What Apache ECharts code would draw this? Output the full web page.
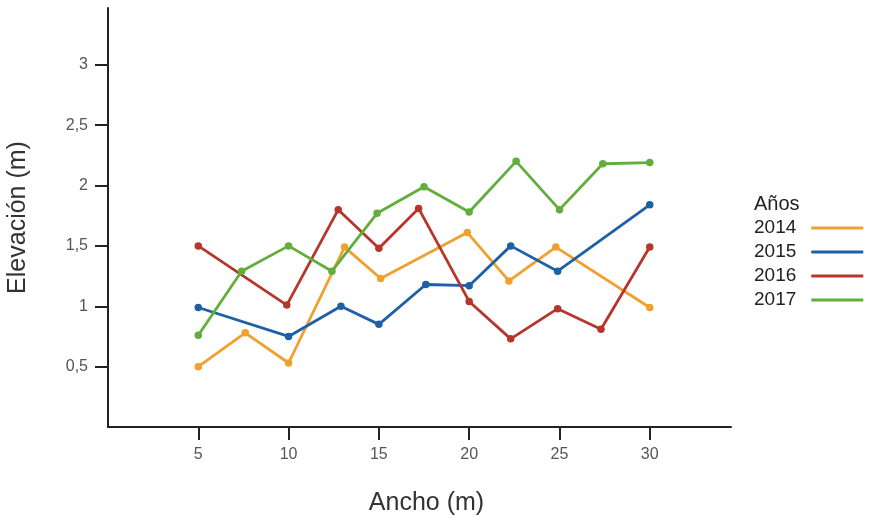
<!DOCTYPE html>
<html>
<head>
<meta charset="utf-8">
<script src="https://cdn.jsdelivr.net/npm/echarts@6/dist/echarts.min.js"></script>
<style>
  html, body { margin: 0; padding: 0; background: #fff; }
  #container { width: 869px; height: 518px; }
</style>
</head>
<body>
<div id="container"></div>
<script>
// años de la serie
var years = ['2014', '2015', '2016', '2017'];
var colors = ['#F0A02E', '#1F5FA6', '#B5362A', '#62AE3C'];

// ancho (m) / elevación (m)
var x2014 = [5, 7.6, 10, 13.1, 15.1, 19.9, 22.2, 24.8, 30];
var y2014 = [0.50, 0.78, 0.53, 1.49, 1.23, 1.61, 1.21, 1.49, 0.99];
var x2015 = [5, 10, 12.9, 15, 17.6, 20, 22.3, 24.9, 30];
var y2015 = [0.99, 0.75, 1.00, 0.85, 1.18, 1.17, 1.50, 1.29, 1.84];
var x2016 = [5, 9.9, 12.75, 15, 17.2, 20, 22.3, 24.9, 27.3, 30];
var y2016 = [1.50, 1.01, 1.80, 1.48, 1.81, 1.04, 0.73, 0.98, 0.81, 1.49];
var x2017 = [5, 7.4, 10, 12.4, 14.9, 17.5, 20, 22.6, 25, 27.4, 30];
var y2017 = [0.76, 1.29, 1.50, 1.29, 1.77, 1.99, 1.78, 2.20, 1.80, 2.18, 2.19];

// marcas de los ejes
var xTicks = [5, 10, 15, 20, 25, 30];
var yTicks = [0.5, 1, 1.5, 2, 2.5, 3];

function pares(xs, ys) {
  return xs.map(function (x, i) { return [x, ys[i]]; });
}
var datos = [pares(x2014, y2014), pares(x2015, y2015), pares(x2016, y2016), pares(x2017, y2017)];

var ejeLinea = { show: true, lineStyle: { color: '#222', width: 2 } };
var ejeTick = { show: true, inside: false, length: 13, lineStyle: { color: '#222', width: 2 } };

var option = {
  backgroundColor: '#fff',
  animation: false,
  title: {
    text: 'Años',
    left: 749,
    top: 189,
    textStyle: { fontFamily: 'Liberation Sans', fontSize: 20, fontWeight: 'normal', color: '#222' }
  },
  legend: {
    orient: 'vertical',
    left: 749,
    top: 213,
    align: 'right',
    icon: 'rect',
    itemWidth: 52,
    itemHeight: 3,
    itemGap: 4,
    data: years,
    textStyle: { fontFamily: 'Liberation Sans', fontSize: 19, color: '#222', lineHeight: 20, padding: [0, 10, 0, 0] }
  },
  grid: { left: 108, top: 8, right: 138, bottom: 91, containLabel: false, outerBoundsMode: 'none' },
  xAxis: {
    type: 'value',
    min: 0,
    max: 34.5,
    name: 'Ancho (m)',
    nameLocation: 'middle',
    nameGap: 64,
    nameTextStyle: { fontFamily: 'Liberation Sans', fontSize: 25, color: '#333', padding: [0, 0, 0, 14] },
    axisLine: ejeLinea,
    axisTick: Object.assign({ customValues: xTicks }, ejeTick),
    axisLabel: { customValues: xTicks, margin: 20, fontFamily: 'Liberation Sans', fontSize: 16, color: '#555' },
    splitLine: { show: false }
  },
  yAxis: {
    type: 'value',
    min: 0,
    max: 3.47,
    name: 'Elevación (m)',
    nameLocation: 'middle',
    nameGap: 77,
    nameTextStyle: { fontFamily: 'Liberation Sans', fontSize: 25, color: '#333' },
    axisLine: ejeLinea,
    axisTick: Object.assign({ customValues: yTicks }, ejeTick),
    axisLabel: {
      customValues: yTicks,
      margin: 20,
      fontFamily: 'Liberation Sans',
      fontSize: 16,
      color: '#555',
      formatter: function (v) { return String(v).replace('.', ','); }
    },
    splitLine: { show: false }
  },
  series: years.map(function (y, i) {
    return {
      name: y,
      type: 'line',
      data: datos[i],
      symbol: 'circle',
      symbolSize: 7.5,
      lineStyle: { color: colors[i], width: 2.8 },
      itemStyle: { color: colors[i] }
    };
  })
};

echarts.init(document.getElementById('container')).setOption(option);
</script>
</body>
</html>
